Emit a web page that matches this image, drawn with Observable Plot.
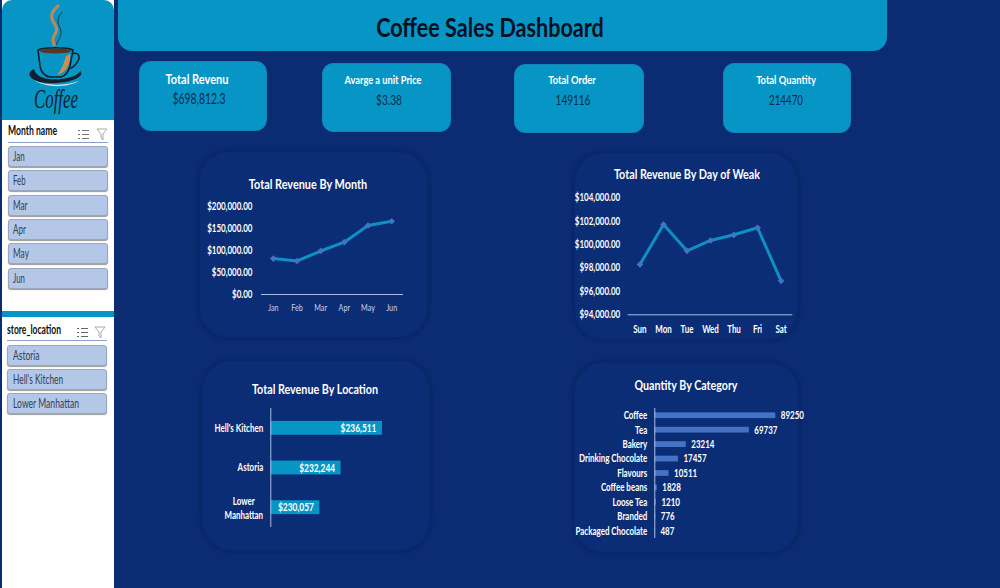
<!DOCTYPE html>
<html>
<head>
<meta charset="utf-8">
<script src="https://cdn.jsdelivr.net/npm/d3@7"></script>
<script src="https://cdn.jsdelivr.net/npm/@observablehq/plot@0.6"></script>
<style>
  html,body{margin:0;padding:0;background:#0b2b73;overflow:hidden}
  body{width:1000px;height:588px;position:relative;font-family:Lato,sans-serif}
  .box{position:absolute;box-sizing:border-box}
  .teal{background:#0795c5}
  .txt{position:absolute;white-space:nowrap}
  .card{border-radius:11px;border:1px solid #0f86b5}
  .panel{background:#0b2d76;border:3px solid #0a2869;border-radius:32px;box-shadow:0 0 3px #0a2766}
  .chip{background:#b4c7e7;border:1px solid #9aa6bd;border-radius:3px;box-shadow:0 1px 1px #9a9a9a}
  .plot{position:absolute}
  .plot svg{display:block;background:transparent;overflow:visible}
</style>
</head>
<body>
<div id="root"></div>
<script>
// ---- data ----
const months = ["Jan","Feb","Mar","Apr","May","Jun"];
const monthRevenue = [81678,76145,98835,118941,156728,166486];
const days = ["Sun","Mon","Tue","Wed","Thu","Fri","Sat"];
const dayRevenue = [98302,101721,99470,100353,100838,101436,96906];
const locations = ["Hell's Kitchen","Astoria","Lower Manhattan"];
const locationRevenue = [236511,232244,230057];
const categories = ["Coffee","Tea","Bakery","Drinking Chocolate","Flavours","Coffee beans","Loose Tea","Branded","Packaged Chocolate"];
const categoryQty = [89250,69737,23214,17457,10511,1828,1210,776,487];
const kpiTitles = ["Total Revenu","Avarge a unit Price","Total Order","Total Quantity"];
const kpiValues = ["$698,812.3","$3.38","149116","214470"];
const store = ["Astoria","Hell's Kitchen","Lower Manhattan"];

const root = document.getElementById("root");
function box(cls,x,y,w,h,extra){const d=document.createElement("div");d.className="box "+cls;
  Object.assign(d.style,{left:x+"px",top:y+"px",width:w+"px",height:h+"px"},extra||{});root.appendChild(d);return d}
// text centred (or left-anchored) at x,y and squeezed horizontally to a narrow face of the given width
function txt(s,x,y,w,style,left){const d=document.createElement("div");d.className="txt";d.textContent=s;
  d.style.left=x+"px";d.style.top=(y-1)+"px";Object.assign(d.style,style||{});root.appendChild(d);
  const k=w/d.offsetWidth;
  d.style.transformOrigin=left?"0 50%":"50% 50%";
  d.style.transform=(left?"translateY(-50%)":"translate(-50%,-50%)")+" scaleX("+k+")";return d}

// ---- sidebar ----
box("",2,0,112,588,{background:"#fff"});
box("teal",2,0,112,120,{borderRadius:"10px 10px 0 0"});
box("teal",2,311,112,6);
const logo=document.createElement("div");logo.className="box";
Object.assign(logo.style,{left:"2px",top:"0px",width:"112px",height:"120px"});
logo.innerHTML=`<svg width="112" height="120" viewBox="2 0 112 120">
 <path d="M59 5c-8 7-9 12-5 18 4 5 3 8 0 13-2 4-1 7 1 10" fill="none" stroke="#b98a58" stroke-width="3.2"/>
 <path d="M62 12c-5 6-5 11-2 16 3 6-1 11-4 17" fill="none" stroke="#2a2a2a" stroke-width="0.9"/>
 <path d="M38 50c6-3 29-3 35 0l-3 16c-2 7-5 10-9 11H50c-5-1-9-5-10-11z" fill="#0795c5" stroke="#10202e" stroke-width="1.6"/>
 <ellipse cx="55.5" cy="51" rx="15.5" ry="2.6" fill="#5a3622"/>
 <path d="M66 56l4-2c1 8-3 19-13 21 5-6 7-12 9-19z" fill="#c98f55"/>
 <path d="M72 54c8-3 8 4 6 7-2 4-6 7-10 8" fill="none" stroke="#10202e" stroke-width="1.6"/>
 <path d="M34 69c-8 4-5 10 6 13 14 3 36 0 41-7 1-2 0-3-1-4-3 7-20 9-31 8-9-1-14-5-15-10z" fill="#10202e"/>
 <path d="M34 80c10 6 32 6 45 1-12 7-34 7-45-1z" fill="#e9e1d5"/>
 <text x="56" y="108" text-anchor="middle" font-family="Liberation Serif" font-style="italic" font-size="27" fill="#10202e" textLength="44" lengthAdjust="spacingAndGlyphs">Coffee</text>
</svg>`;
root.appendChild(logo);

function icon(x,y,kind,col){const d=document.createElement("div");d.className="box";
  Object.assign(d.style,{left:x+"px",top:y+"px",width:"13px",height:"13px"});
  d.innerHTML = kind==="list"
   ? `<svg width="13" height="13"><g stroke="${col}" stroke-width="1"><path d="M1 2.5h2M5 2.5h7M1 6.5h2M5 6.5h7M1 10.5h2M5 10.5h7"/></g></svg>`
   : `<svg width="13" height="13"><path d="M1 1h10L7 6v6L5 10V6z" fill="none" stroke="${col}"/></svg>`;
  root.appendChild(d)}

const chipFont={fontSize:"13px",color:"#333f58"};
const chipW={Jan:11.7,Feb:12.7,Mar:14.5,Apr:13,May:16,Jun:12,"Astoria":26.7,"Hell's Kitchen":50,"Lower Manhattan":66};
txt("Month name",8,131,49,{fontSize:"12.5px",fontWeight:"bold",color:"#111"},true);
icon(77,125,"list","#777");icon(96,125,"filter","#aaa");
box("",8,142,100,1,{background:"#8ea0c9"});
months.forEach((m,i)=>{box("chip",8,146+i*24.3,100,21);txt(m,13.3,157+i*24.3,chipW[m],chipFont,true)});
txt("store_location",7,330,54,{fontSize:"12.5px",fontWeight:"bold",color:"#111"},true);
icon(76,323,"list","#666");icon(94,323,"filter","#aaa");
box("",7,340,100,1,{background:"#8ea0c9"});
store.forEach((m,i)=>{box("chip",7,345+i*24.2,100,21);txt(m,12.7,356+i*24.2,chipW[m],chipFont,true)});

// ---- header ----
box("teal",118,-14,769,65,{borderRadius:"14px"});
txt("Coffee Sales Dashboard",490,27,228,{fontWeight:"bold",fontSize:"27px",color:"#06101f"});
const kpiBox=[[139,61,128,70],[322,63,129,69],[514,64,130,69],[723,63,128,70]];
const kpiT=[[197,78.7,63,14],[382.5,79.5,77,12],[572,79.5,48,12],[786,79.5,60,12]];
const kpiV=[[198.5,98.7,53,14.5],[389,99.5,26,14],[572.5,99.5,35,14],[786,99.5,34,14]];
kpiTitles.forEach((t,i)=>{
  box("teal card",...kpiBox[i]);
  txt(t,kpiT[i][0],kpiT[i][1],kpiT[i][2],{color:"#fff",fontWeight:"bold",fontSize:kpiT[i][3]+"px"});
  txt(kpiValues[i],kpiV[i][0],kpiV[i][1],kpiV[i][2],{color:"#0b2b50",fontSize:kpiV[i][3]+"px"});
});

// ---- chart panels ----
box("panel",197,149,233,191);
box("panel",572,150,228,192);
box("panel",200,358,232,195);
box("panel",572,360,229,195);
const ct={color:"#fff",fontWeight:"bold",fontSize:"14px"};
txt("Total Revenue By Month",308,184,118,ct);
txt("Total Revenue By Day of Weak",687,174,146,ct);
txt("Total Revenue By Location",314.5,389,126,ct);
txt("Quantity By Category",685.5,385,103,ct);

const FONT='Lato,sans-serif';
// Squeeze every label of a plot towards the narrow face of the reference
function place(svg,x,y,k){const d=document.createElement("div");d.className="plot";d.style.left=x+"px";d.style.top=y+"px";d.appendChild(svg);root.appendChild(d);
  svg.querySelectorAll("text").forEach(t=>{
    t.setAttribute("transform",(t.getAttribute("transform")||"")+" scale("+k+",1)");
  });
}
const axisStyle={fontFamily:FONT,background:"transparent",color:"#fff",overflow:"visible"};
const LINE="#0f90c2",MARK="#4472c4",AX="#a9bde6";

// Revenue by month
const mData=months.map((m,i)=>({m,v:monthRevenue[i]}));
place(Plot.plot({
  width:233,height:120,marginLeft:64,marginRight:27,marginTop:11,marginBottom:21,style:axisStyle,
  x:{type:"point",domain:months,padding:0.5,round:false,label:null},
  y:{domain:[0,200000],label:null},
  marks:[
    Plot.axisY({ticks:[0,50000,100000,150000,200000],tickFormat:d3.format("$,.2f"),tickSize:0,tickPadding:9,fontSize:10.5,fontWeight:"bold",fill:"#fff",label:null}),
    Plot.axisX({tickSize:0,tickPadding:9.5,fontSize:9.5,fill:"#c8d4ef",label:null}),
    Plot.ruleY([0],{stroke:AX,strokeWidth:1}),
    Plot.line(mData,{x:"m",y:"v",stroke:LINE,strokeWidth:3}),
    Plot.dot(mData,{x:"m",y:"v",symbol:"diamond2",r:3,fill:MARK})
  ]
}),197,195,0.76);

// Revenue by day
const dData=days.map((m,i)=>({m,v:dayRevenue[i]}));
place(Plot.plot({
  width:228,height:150,marginLeft:55.7,marginRight:7.7,marginTop:7.3,marginBottom:25.7,style:axisStyle,
  x:{type:"point",domain:days,padding:0.5,round:false,label:null},
  y:{domain:[94000,104000],label:null},
  marks:[
    Plot.axisY({ticks:[94000,96000,98000,100000,102000,104000],tickFormat:d3.format("$,.2f"),tickSize:0,tickPadding:8,fontSize:10.5,fontWeight:"bold",fill:"#fff",label:null}),
    Plot.axisX({tickSize:0,tickPadding:11,fontSize:10.5,fontWeight:"bold",fill:"#fff",label:null}),
    Plot.ruleY([94000],{stroke:AX,strokeWidth:1}),
    Plot.line(dData,{x:"m",y:"v",stroke:LINE,strokeWidth:3}),
    Plot.dot(dData,{x:"m",y:"v",symbol:"diamond2",r:3,fill:MARK})
  ]
}),572,190,0.76);

// Revenue by location (truncated axis as in the reference)
const lData=locations.map((m,i)=>({m,v:locationRevenue[i]}));
place(Plot.plot({
  width:232,height:119,marginLeft:70.3,marginRight:16.2,marginTop:0,marginBottom:0,style:axisStyle,
  x:{domain:[225000,240000],axis:null,label:null},
  y:{type:"band",domain:locations,paddingInner:0.65,paddingOuter:0.325,round:false,label:null},
  marks:[
    Plot.barX(lData,{x1:225000,x2:"v",y:"m",fill:"#0795c5"}),
    Plot.ruleX([225000],{stroke:AX,strokeWidth:1}),
    Plot.axisY({tickSize:0,tickPadding:7.6,fontSize:10.5,fontWeight:"bold",fill:"#fff",label:null,lineWidth:Infinity,textOverflow:null,
      tickFormat:d=>d==="Lower Manhattan"?"":d}),
    Plot.text(["Lower Manhattan"],{x:()=>225000,y:d=>d,text:()=>"Lower\nManhattan",dx:-27,textAnchor:"middle",fill:"#fff",fontSize:10.5,fontWeight:"bold",lineHeight:1.3}),
    Plot.text(lData,{x:"v",y:"m",text:d=>d3.format("$,")(d.v),textAnchor:"end",dx:-6,fill:"#fff",fontSize:11,fontWeight:"bold"})
  ]
}),200,407.7,0.76);

// Quantity by category
const cData=categories.map((m,i)=>({m,v:categoryQty[i]}));
place(Plot.plot({
  width:229,height:130,marginLeft:82.3,marginRight:25.7,marginTop:0,marginBottom:0,style:axisStyle,
  x:{domain:[0,89250],axis:null,label:null},
  y:{type:"band",domain:categories,paddingInner:0.6,paddingOuter:0.3,round:false,label:null},
  marks:[
    Plot.barX(cData,{x:"v",y:"m",fill:MARK}),
    Plot.ruleX([0],{stroke:AX,strokeWidth:1}),
    Plot.axisY({tickSize:0,tickPadding:7.6,fontSize:10.5,fontWeight:"bold",fill:"#fff",label:null,textOverflow:null,lineWidth:Infinity}),
    Plot.text(cData,{x:"v",y:"m",text:d=>String(d.v),textAnchor:"start",dx:5,fill:"#fff",fontSize:10.5,fontWeight:"bold"})
  ]
}),572,407.7,0.76);
</script>
</body>
</html>
